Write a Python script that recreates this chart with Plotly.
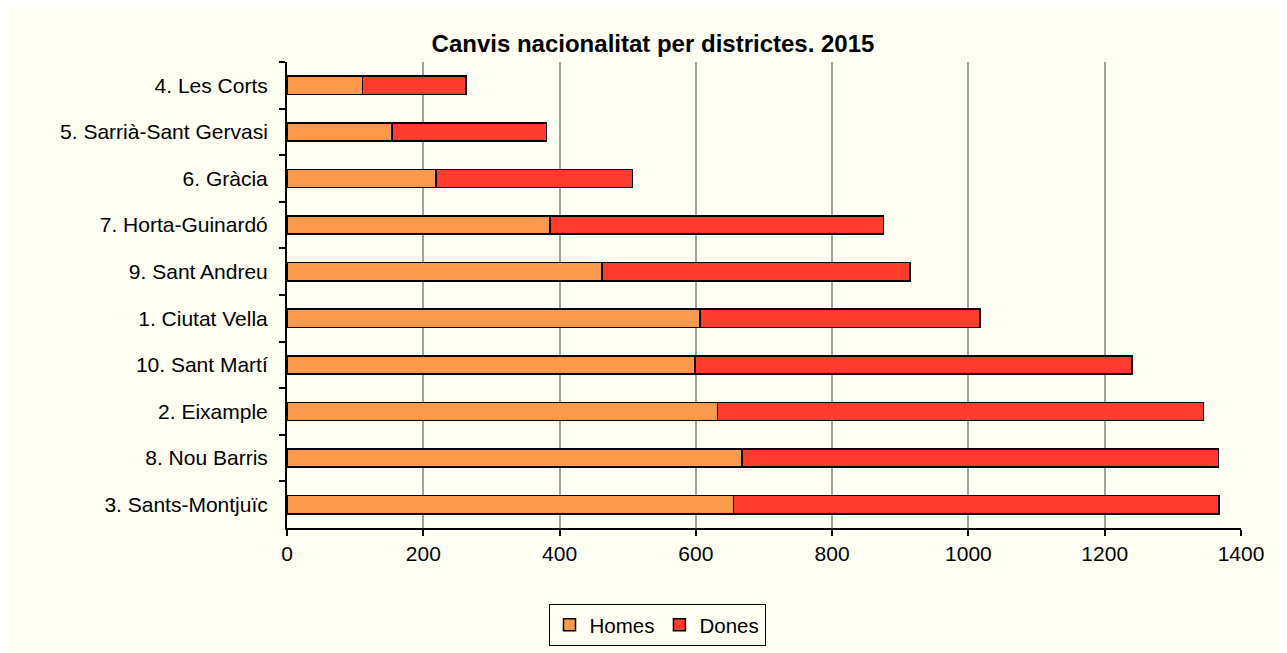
import plotly.graph_objects as go

# districts, top to bottom as in the chart
districtes = ["4. Les Corts", "5. Sarrià-Sant Gervasi", "6. Gràcia", "7. Horta-Guinardó",
              "9. Sant Andreu", "1. Ciutat Vella", "10. Sant Martí", "2. Eixample",
              "8. Nou Barris", "3. Sants-Montjuïc"]
homes = [111, 154, 219, 386, 462, 606, 599, 632, 668, 655]
dones = [152, 227, 288, 489, 452, 411, 641, 713, 699, 713]
x_ticks = [0, 200, 400, 600, 800, 1000, 1200, 1400]

homes_color = "#FB9A4D"
dones_color = "#FE3B2D"
cream = "#FFFFF3"
font_name = "Liberation Sans, Arial, sans-serif"

fig = go.Figure()
fig.add_trace(go.Bar(y=districtes, x=homes, name="Homes", orientation="h",
                     marker=dict(color=homes_color, line=dict(color="black", width=1.5))))
fig.add_trace(go.Bar(y=districtes, x=dones, name="Dones", orientation="h",
                     marker=dict(color=dones_color, line=dict(color="black", width=1.5))))

# page puts the figure 8px in from the top-left corner
W, H = 1279, 645
L, R, T, B = 279, 46, 54, 125
pw = W - L - R

fig.update_layout(
    width=W, height=H,
    barmode="stack", bargap=0.61,
    paper_bgcolor=cream, plot_bgcolor=cream,
    margin=dict(l=L, r=R, t=T, b=B, autoexpand=False),
    font=dict(family=font_name, size=21, color="black"),
    title=dict(text="<b>Canvis nacionalitat per districtes. 2015</b>",
               x=(653 - 8) / W, xref="container", xanchor="center",
               y=1 - 36 / H, yanchor="middle", font=dict(size=24)),
    legend=dict(orientation="h", x=0.5 - (0.5 * pw + L + 8 - 657) / pw, xanchor="center",
                y=-0.163, yanchor="top", bgcolor=cream, bordercolor="black",
                borderwidth=1, font=dict(size=20.5), traceorder="normal"),
    showlegend=True,
)
fig.update_xaxes(range=[0, 1400], tickvals=x_ticks, showgrid=True, gridcolor="#A0A0A0",
                 gridwidth=2, showline=True, linecolor="black", linewidth=2,
                 ticks="outside", ticklen=6, tickwidth=2, tickcolor="black",
                 zeroline=False)
fig.update_yaxes(autorange="reversed", type="category", showline=True, linecolor="black",
                 linewidth=2, ticks="outside", tickson="boundaries", ticklen=6,
                 tickwidth=2, tickcolor="black", showgrid=False, ticklabelstandoff=13)

fig.write_html("out.html")
